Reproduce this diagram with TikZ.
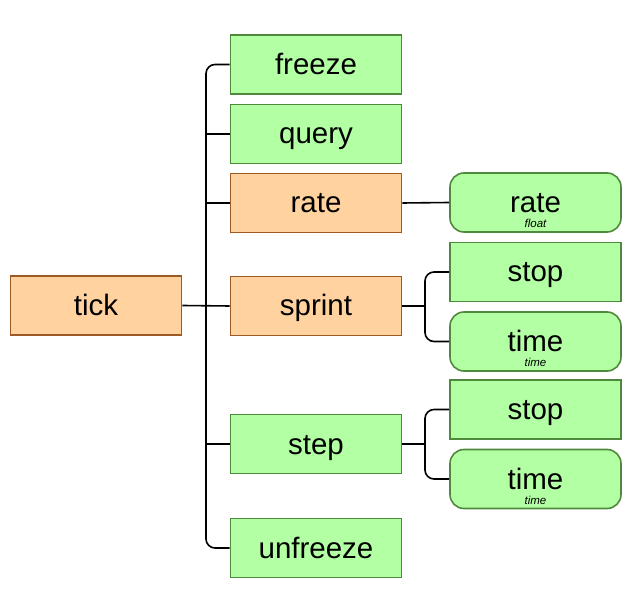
\documentclass[tikz,border=0pt]{standalone}
\usepackage{fontspec}
\setmainfont{Liberation Sans}
\definecolor{ofill}{HTML}{FFD29F}
\definecolor{oline}{HTML}{9C5A24}
\definecolor{gfill}{HTML}{B3FFA3}
\definecolor{gline}{HTML}{4F8A3C}
\tikzset{
  box/.style={rectangle, minimum width=171pt, minimum height=59pt, line width=1.6pt,
    inner sep=0pt, font=\fontsize{29.5}{34}\selectfont, text height=21pt, text depth=1pt},
  obox/.style={box, fill=ofill, draw=oline},
  gbox/.style={box, fill=gfill, draw=gline},
  rbox/.style={gbox, rounded corners=14pt},
  sub/.style={font=\fontsize{11.5}{13}\selectfont\itshape, anchor=base, inner sep=0pt},
  conn/.style={line width=1.6pt, black},
}
\begin{document}
\begin{tikzpicture}[x=1pt, y=-1pt]
\useasboundingbox (0,0) rectangle (632,612);
\node[obox] (tick) at (96,305.5) {tick};
\node[gbox] (freeze) at (316,64.5) {freeze};
\node[gbox] (query) at (316,134) {query};
\node[obox] (rate) at (316,203) {rate};
\node[obox] (sprint) at (316,306) {sprint};
\node[gbox] (step) at (316,444) {step};
\node[gbox] (unfreeze) at (316,548) {unfreeze};
\node[rbox] (rate2) at (535.5,202.5) {rate};
\node[sub] (rate2t) at ([yshift=-25pt]rate2.center) {float};
\node[gbox] (stop1) at (535.5,272) {stop};
\node[rbox] (time1) at (535.5,341.5) {time};
\node[sub] (time1t) at ([yshift=-25pt]time1.center) {time};
\node[gbox] (stop2) at (535.5,409.5) {stop};
\node[rbox] (time2) at (535.5,479) {time};
\node[sub] (time2t) at ([yshift=-25pt]time2.center) {time};
\coordinate (ta) at (206,0);
\coordinate (tb) at (425,0);
% main trunk
\draw[conn, rounded corners=9pt] (freeze.west) -| (ta |- unfreeze.west) -- (unfreeze.west);
\draw[conn] (tick.east) -- (sprint.west);
\draw[conn] (query.west) -- (query.west -| ta);
\draw[conn] (rate.west) -- (rate.west -| ta);
\draw[conn] (step.west) -- (step.west -| ta);
% secondary
\draw[conn] (rate.east) -- (rate2.west);
\draw[conn, rounded corners=9pt] (stop1.west) -| (tb |- time1.west) -- (time1.west);
\draw[conn] (sprint.east) -- (sprint.east -| tb);
\draw[conn, rounded corners=9pt] (stop2.west) -| (tb |- time2.west) -- (time2.west);
\draw[conn] (step.east) -- (step.east -| tb);
\end{tikzpicture}
\end{document}
